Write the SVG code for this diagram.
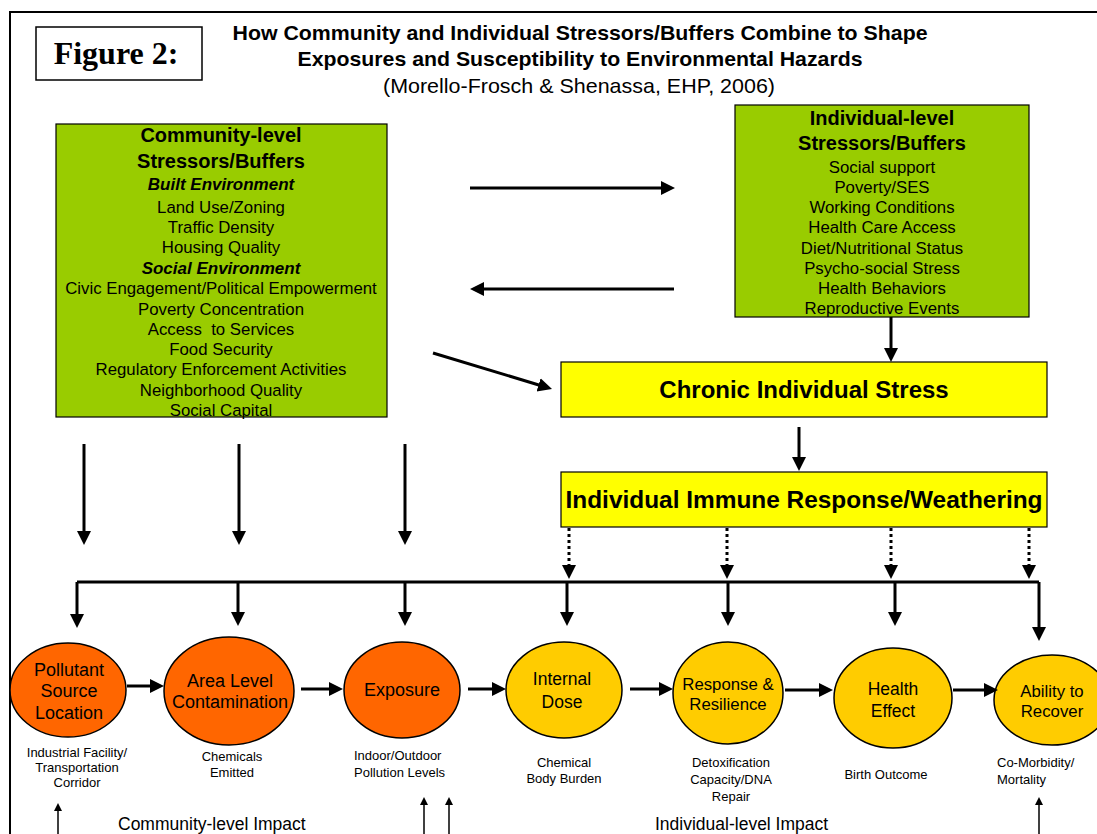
<svg xmlns="http://www.w3.org/2000/svg" width="1097" height="834" viewBox="0 0 1097 834">
<style>
text{font-family:"Liberation Sans",Arial,sans-serif;fill:#000}
.t{font-size:16.8px;text-anchor:middle}
.h{font-size:20px;font-weight:bold;text-anchor:middle}
.hi{font-size:17px;font-weight:bold;font-style:italic;text-anchor:middle}
.box{stroke:#000;stroke-width:1.2}
.g{fill:#99CC00}
.y{fill:#FFFF00}
.big{font-size:24px;font-weight:bold;text-anchor:middle}
.o{fill:#FF6600;stroke:#000;stroke-width:1.5}
.gd{fill:#FFCC00;stroke:#000;stroke-width:1.5}
.e18{font-size:18px;text-anchor:middle}
.e17{font-size:17.5px;text-anchor:middle}
.e16{font-size:16.8px;text-anchor:middle}
.c{stroke:#000;stroke-width:3;fill:none}
.arr{marker-end:url(#ah)}
.dot{stroke-dasharray:3 3}
.thin{stroke:#000;stroke-width:1.5;fill:none;marker-end:url(#ahs)}
.cap{font-size:13px;text-anchor:middle}
.caps{font-size:13px}
.imp{font-size:17.5px}
.ttl{font-size:21px;font-weight:bold;text-anchor:middle}
</style>
<defs>
<marker id="ah" markerUnits="userSpaceOnUse" markerWidth="16" markerHeight="16" refX="2" refY="7" orient="auto"><path d="M0,0L14,7L0,14z" fill="#000"/></marker>
<marker id="ahs" markerUnits="userSpaceOnUse" markerWidth="9" markerHeight="9" refX="1" refY="4" orient="auto"><path d="M0,0L8,4L0,8z" fill="#000"/></marker>
</defs>

<path d="M10,834 L10,12 L1097,12" fill="none" stroke="#000" stroke-width="2"/>

<g id="figure-label">
<rect x="36" y="27" width="166" height="53" fill="#fff" stroke="#000" stroke-width="1.5"/>
<text x="116" y="64" style="font-family:'Liberation Serif','Times New Roman',serif;font-size:32px;font-weight:bold" text-anchor="middle">Figure 2:</text>
</g>

<g id="title">
<text class="ttl" x="580" y="40" textLength="695" lengthAdjust="spacingAndGlyphs">How Community and Individual Stressors/Buffers Combine to Shape</text>
<text class="ttl" x="580" y="66" textLength="565" lengthAdjust="spacingAndGlyphs">Exposures and Susceptibility to Environmental Hazards</text>
<text x="579" y="93" style="font-size:21px" text-anchor="middle" textLength="392" lengthAdjust="spacingAndGlyphs">(Morello-Frosch &amp; Shenassa, EHP, 2006)</text>
</g>

<g id="community">
<rect class="box g" x="56" y="124" width="331" height="293"/>
<text class="h" x="221" y="142">Community-level</text>
<text class="h" x="221" y="168">Stressors/Buffers</text>
<text class="hi" x="221" y="190">Built Environment</text>
<text class="t" x="221" y="213">Land Use/Zoning</text>
<text class="t" x="221" y="233">Traffic Density</text>
<text class="t" x="221" y="253">Housing Quality</text>
<text class="hi" x="221" y="274">Social Environment</text>
<text class="t" x="221" y="294">Civic Engagement/Political Empowerment</text>
<text class="t" x="221" y="315">Poverty Concentration</text>
<text class="t" x="221" y="335" xml:space="preserve">Access  to Services</text>
<text class="t" x="221" y="355">Food Security</text>
<text class="t" x="221" y="375">Regulatory Enforcement Activities</text>
<text class="t" x="221" y="396">Neighborhood Quality</text>
<text class="t" x="221" y="416">Social Capital</text>
</g>

<g id="individual">
<rect class="box g" x="735" y="105" width="294" height="212"/>
<text class="h" x="882" y="125">Individual-level</text>
<text class="h" x="882" y="150">Stressors/Buffers</text>
<text class="t" x="882" y="173">Social support</text>
<text class="t" x="882" y="193">Poverty/SES</text>
<text class="t" x="882" y="213">Working Conditions</text>
<text class="t" x="882" y="233">Health Care Access</text>
<text class="t" x="882" y="254">Diet/Nutritional Status</text>
<text class="t" x="882" y="274">Psycho-social Stress</text>
<text class="t" x="882" y="294">Health Behaviors</text>
<text class="t" x="882" y="314">Reproductive Events</text>
</g>

<g id="chronic">
<rect class="box y" x="561" y="362" width="486" height="55"/>
<text class="big" x="804" y="398">Chronic Individual Stress</text>
</g>

<g id="immune">
<rect class="box y" x="561" y="472" width="486" height="55"/>
<text class="big" x="804" y="508" textLength="477" lengthAdjust="spacingAndGlyphs">Individual Immune Response/Weathering</text>
</g>

<g id="pollutant">
<ellipse class="o" cx="68" cy="690" rx="58" ry="47"/>
<text class="e18" x="69" y="676">Pollutant</text>
<text class="e18" x="69" y="697">Source</text>
<text class="e18" x="69" y="719">Location</text>
<text class="cap" x="77" y="757">Industrial Facility/</text>
<text class="cap" x="77" y="772">Transportation</text>
<text class="cap" x="77" y="787">Corridor</text>
</g>

<g id="area">
<ellipse class="o" cx="229" cy="691" rx="65" ry="54"/>
<text class="e18" x="230" y="687">Area Level</text>
<text class="e18" x="230" y="708">Contamination</text>
<text class="cap" x="232" y="761">Chemicals</text>
<text class="cap" x="232" y="777">Emitted</text>
</g>

<g id="exposure">
<ellipse class="o" cx="402" cy="690" rx="58" ry="48"/>
<text class="e18" x="402" y="696">Exposure</text>
<text class="caps" x="354" y="760">Indoor/Outdoor</text>
<text class="caps" x="354" y="777">Pollution Levels</text>
</g>

<g id="internal">
<ellipse class="gd" cx="564" cy="690" rx="58" ry="48"/>
<text class="e17" x="562" y="685">Internal</text>
<text class="e17" x="562" y="708">Dose</text>
<text class="cap" x="564" y="767">Chemical</text>
<text class="cap" x="564" y="783">Body Burden</text>
</g>

<g id="response">
<ellipse class="gd" cx="728" cy="693" rx="55" ry="51"/>
<text class="e16" x="728" y="690">Response &amp;</text>
<text class="e16" x="728" y="710">Resilience</text>
<text class="cap" x="731" y="767">Detoxification</text>
<text class="cap" x="731" y="784">Capacity/DNA</text>
<text class="cap" x="731" y="801">Repair</text>
</g>

<g id="health">
<ellipse class="gd" cx="893" cy="698" rx="59" ry="50"/>
<text class="e17" x="893" y="695">Health</text>
<text class="e17" x="893" y="717">Effect</text>
<text class="cap" x="886" y="779">Birth Outcome</text>
</g>

<g id="recover">
<ellipse class="gd" cx="1052" cy="700" rx="58" ry="45"/>
<text class="e16" x="1052" y="697">Ability to</text>
<text class="e16" x="1052" y="717">Recover</text>
<text class="caps" x="997" y="767">Co-Morbidity/</text>
<text class="caps" x="997" y="784">Mortality</text>
</g>

<g id="impact-labels">
<text class="imp" x="118" y="830">Community-level Impact</text>
<text class="imp" x="655" y="830">Individual-level Impact</text>
</g>

<g id="connectors">
<path class="c arr" d="M470,188 L663,188"/>
<path class="c arr" d="M674,289 L482,289"/>
<path class="c arr" d="M433,353 L540.5,385.5"/>
<path class="c arr" d="M891,317 L891,350"/>
<path class="c arr" d="M799,427 L799,459"/>
<path class="c arr" d="M84,444 L84,533"/>
<path class="c arr" d="M239,444 L239,533"/>
<path class="c arr" d="M405,444 L405,533"/>
<path class="c dot arr" d="M569,528 L569,567"/>
<path class="c dot arr" d="M727,528 L727,567"/>
<path class="c dot arr" d="M891,528 L891,567"/>
<path class="c dot arr" d="M1029,528 L1029,567"/>
<path class="c" d="M77,582 L1039,582"/>
<path class="c arr" d="M77,582 L77,616"/>
<path class="c arr" d="M238,582 L238,614"/>
<path class="c arr" d="M405,582 L405,614"/>
<path class="c arr" d="M567,582 L567,614"/>
<path class="c arr" d="M728,582 L728,614"/>
<path class="c arr" d="M895,582 L895,614"/>
<path class="c arr" d="M1039,582 L1039,629"/>
<path class="c arr" d="M127,686 L152,686"/>
<path class="c arr" d="M301,689 L331,689"/>
<path class="c arr" d="M468,689 L494,689"/>
<path class="c arr" d="M630,689 L661,689"/>
<path class="c arr" d="M785,690 L821,690"/>
<path class="c arr" d="M953,690 L986,690"/>
<path class="thin" d="M58,834 L58,810"/>
<path class="thin" d="M424,834 L424,804"/>
<path class="thin" d="M449,834 L449,804"/>
<path class="thin" d="M1039,834 L1039,804"/>
</g>
</svg>
